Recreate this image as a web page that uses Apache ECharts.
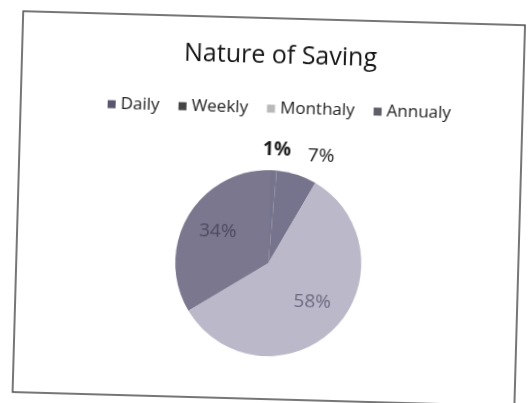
<!DOCTYPE html>
<html>
<head>
<meta charset="utf-8">
<script src="https://cdn.jsdelivr.net/npm/echarts@6/dist/echarts.min.js"></script>
<style>
  html, body { margin: 0; padding: 0; background: #fff; overflow: hidden; }
  /* the scan is a little tilted */
  #chart { width: 528px; height: 403px; transform: rotate(1.6deg); transform-origin: 50% 50%; }
</style>
</head>
<body>
<div id="chart"></div>
<script>
// data
const categories = ['Daily', 'Weekly', 'Monthaly', 'Annualy']
const values = [1, 7, 58, 34]
const sliceColors = ['#76738c', '#76738c', '#bbb8c9', '#7a778f']
const legendColors = ['#5b5670', '#454545', '#b9b9b9', '#5e5e66']

const chart = echarts.init(document.getElementById('chart'))

const pieData = categories.map((name, i) => {
  const item = { name: name, value: values[i], itemStyle: { color: sliceColors[i] } }
  if (i < 2) {
    // small slices: label above the pie
    item.label = {
      position: 'outside',
      color: '#1a1a1a',
      fontWeight: i === 0 ? 'bold' : 'normal'
    }
    item.labelLine = { show: false, length: 20, length2: 0 }
  } else {
    item.label = {
      position: 'inside',
      color: i === 2 ? '#6c6a80' : '#4d4b5e'
    }
  }
  return item
})

const option = {
  backgroundColor: '#fff',
  animation: false,
  title: {
    text: 'Nature of Saving',
    left: 175,
    top: 38,
    textStyle: {
      fontFamily: 'Open Sans',
      fontSize: 25,
      fontWeight: 'normal',
      color: '#151515'
    }
  },
  legend: {
    data: categories.map((name, i) => ({ name: name, itemStyle: { color: legendColors[i] } })),
    left: 100,
    top: 95,
    icon: 'rect',
    itemWidth: 8,
    itemHeight: 8,
    itemGap: 19,
    textStyle: { fontFamily: 'Open Sans', fontSize: 17, color: '#222' }
  },
  graphic: [
    {
      type: 'rect',
      shape: { x: 18, y: 18, width: 502, height: 381 },
      style: { fill: 'none', stroke: '#4a4a4a', lineWidth: 1.5 },
      silent: true
    }
  ],
  series: [
    {
      type: 'pie',
      center: [270, 263],
      radius: 93,
      startAngle: 90,
      clockwise: true,
      avoidLabelOverlap: false,
      itemStyle: { borderWidth: 0 },
      data: pieData,
      label: {
        formatter: '{d}%',
        fontFamily: 'Open Sans',
        fontSize: 19
      },
      labelLayout: function (params) {
        // nudge labels to where they sit in the picture
        if (params.dataIndex === 0) return { dx: -17 }
        if (params.dataIndex === 2) return { dx: 9, dy: 4 }
        if (params.dataIndex === 3) return { dx: -8, dy: -7 }
        return {}
      },
      emphasis: { disabled: true }
    }
  ]
}

chart.setOption(option)
</script>
</body>
</html>
